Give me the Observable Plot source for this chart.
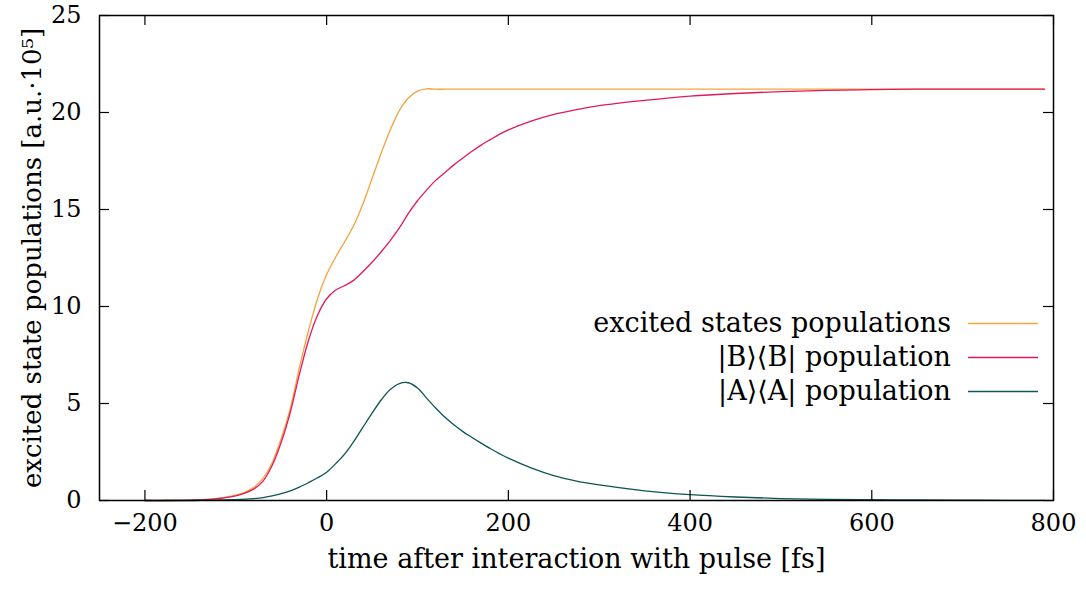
<!DOCTYPE html>
<html>
<head>
<meta charset="utf-8">
<script src="https://cdn.jsdelivr.net/npm/d3@7"></script>
<script src="https://cdn.jsdelivr.net/npm/@observablehq/plot@0.6"></script>
<style>
  html, body { margin: 0; padding: 0; background: #fff; }
  #chart { width: 1086px; height: 589px; }
</style>
</head>
<body>
<div id="chart"></div>
<script>
// ---- data ----
const timeFs = [
  -200, -175, -150, -125,
  -100, -90, -80, -70, -60, -50, -40, -30, -20, -10,
  0, 10, 20, 30, 40, 50, 60, 70, 80, 90,
  100, 110, 120, 130, 140, 150, 160, 170, 180, 190,
  200,
  225, 250, 275, 300,
  350, 400, 450, 500, 550, 600, 650, 700, 750,
  790];

const excitedTotal = [
  0, 0, 0.02, 0.08,
  0.28, 0.42, 0.68, 1.15, 1.95, 3.2, 4.75, 6.85, 8.75, 10.4,
  11.65, 12.55, 13.35, 14.2, 15.3, 16.6, 17.9, 19.1, 20.1, 20.75,
  21.1, 21.22, 21.2, 21.2, 21.2, 21.2, 21.2, 21.2, 21.2, 21.2,
  21.2,
  21.2, 21.2, 21.2, 21.2,
  21.2, 21.2, 21.2, 21.2, 21.2, 21.2, 21.2, 21.2, 21.2,
  21.2];

const bPopulation = [
  0, 0, 0.02, 0.07,
  0.24, 0.38, 0.6, 1.0, 1.8, 3.0, 4.55, 6.5, 8.25, 9.55,
  10.4, 10.85, 11.08, 11.36, 11.8, 12.28, 12.82, 13.4, 14.05, 14.8,
  15.45, 16.0, 16.5, 16.9, 17.3, 17.65, 18.0, 18.32, 18.6, 18.87,
  19.1,
  19.55, 19.9, 20.15, 20.35,
  20.62, 20.84, 20.98, 21.08, 21.14, 21.18, 21.2, 21.2, 21.2,
  21.2];

const aPopulation = [
  0, 0, 0, 0.02,
  0.05, 0.07, 0.1, 0.15, 0.24, 0.35, 0.5, 0.69, 0.92, 1.17,
  1.46, 1.9, 2.4, 3.05, 3.78, 4.5, 5.18, 5.72, 6.03, 6.07,
  5.8, 5.28, 4.77, 4.3, 3.9, 3.55, 3.25, 2.96, 2.68, 2.42,
  2.18,
  1.68, 1.28, 1.0, 0.8,
  0.5, 0.3, 0.18, 0.1, 0.06, 0.04, 0.025, 0.015, 0.01,
  0.005];

const seriesNames = ["excited states populations", "|B⟩⟨B| population", "|A⟩⟨A| population"];
const seriesColors = ["#f5a33c", "#e01a5e", "#0e5553"];
const xTicks = [-200, 0, 200, 400, 600, 800];
const yTicks = [0, 5, 10, 15, 20, 25];
const xDomain = [-250, 800];
const yDomain = [0, 25];
const xTitle = "time after interaction with pulse [fs]";
const yTitle = "excited state populations [a.u.·10⁵]";

// ---- layout ----
const W = 1086, H = 589;
const mL = 99, mR = 33, mT = 15, mB = 89;
const innerW = W - mL - mR, innerH = H - mT - mB;
const tickLen = 10;
const font = "'DejaVu Serif', 'Liberation Serif', serif";
const fsTick = 24;
const fsText = 27;
const fsYTitle = 26;

const seriesValues = [excitedTotal, bPopulation, aPopulation];
const rows = [];
seriesValues.forEach((vals, s) => {
  vals.forEach((v, i) => rows.push({t: timeFs[i], v, s}));
});

const lineMarks = seriesValues.map((vals, s) =>
  Plot.line(rows.filter(r => r.s === s), {
    x: "t", y: "v", stroke: seriesColors[s], strokeWidth: 1.3, curve: "catmull-rom"
  })
);

const chart = Plot.plot({
  width: W, height: H,
  marginLeft: mL, marginRight: mR, marginTop: mT, marginBottom: mB,
  style: {fontFamily: font, fontSize: fsTick + "px", background: "#fff", color: "#000"},
  x: {domain: xDomain, label: null},
  y: {domain: yDomain, label: null},
  marks: [
    ...lineMarks,
    // inward ticks, all four sides
    Plot.ruleX(xTicks, {y1: yDomain[1], y2: yDomain[0], insetTop: innerH - tickLen, stroke: "#000", strokeWidth: 1.2}),
    Plot.ruleX(xTicks, {y1: yDomain[1], y2: yDomain[0], insetBottom: innerH - tickLen, stroke: "#000", strokeWidth: 1.2}),
    Plot.ruleY(yTicks, {x1: xDomain[0], x2: xDomain[1], insetRight: innerW - tickLen, stroke: "#000", strokeWidth: 1.2}),
    Plot.ruleY(yTicks, {x1: xDomain[0], x2: xDomain[1], insetLeft: innerW - tickLen, stroke: "#000", strokeWidth: 1.2}),
    Plot.axisX({ticks: xTicks, tickSize: 0, tickPadding: 13, fontSize: fsTick, label: null}),
    Plot.axisY({ticks: yTicks, tickSize: 0, tickPadding: 18, fontSize: fsTick, label: null}),
    Plot.frame({stroke: "#000", strokeWidth: 1.5}),
    Plot.text([xTitle], {frameAnchor: "bottom", dy: 67, fontSize: fsText, fill: "#000", textAnchor: "middle"}),
    Plot.text([yTitle], {frameAnchor: "left", dx: -67, rotate: -90, fontSize: fsYTitle, fill: "#000", textAnchor: "middle"})
  ]
});

// legend inside the plot (top-right region)
const svg = d3.select(chart);
const legTextX = 951, legLineX1 = 968, legLineX2 = 1038;
const legY0 = 323.5, legDY = 34;
seriesNames.forEach((name, i) => {
  const y = legY0 + i * legDY;
  svg.append("text")
    .attr("x", legTextX).attr("y", y)
    .attr("dy", "0.32em")
    .attr("text-anchor", "end")
    .attr("font-family", font).attr("font-size", fsText)
    .attr("fill", "#000")
    .text(name);
  svg.append("line")
    .attr("x1", legLineX1).attr("x2", legLineX2)
    .attr("y1", y).attr("y2", y)
    .attr("stroke", seriesColors[i]).attr("stroke-width", 1.3);
});

document.getElementById("chart").appendChild(chart);
</script>
</body>
</html>
